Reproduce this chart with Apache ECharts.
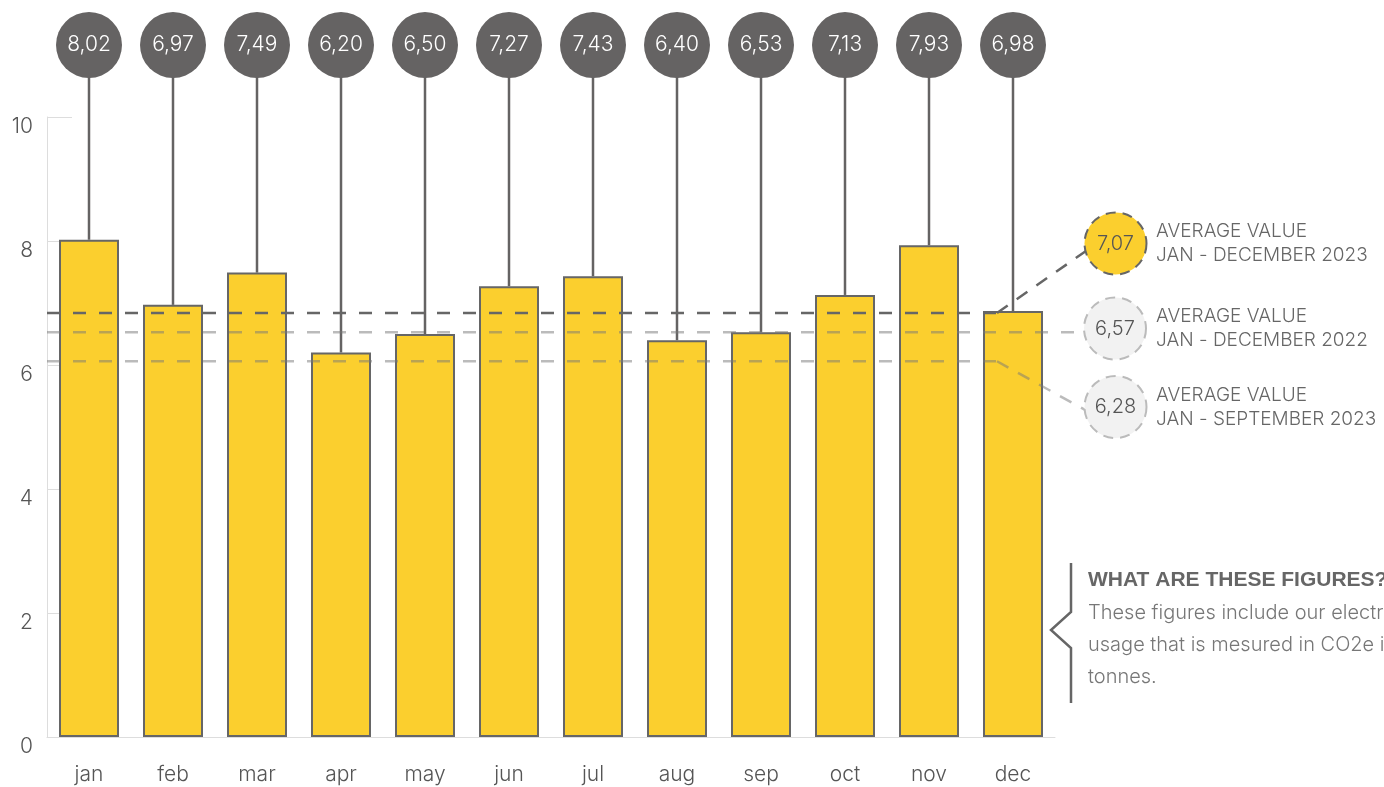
<!DOCTYPE html>
<html><head><meta charset="utf-8">
<script src="https://cdn.jsdelivr.net/npm/echarts@6/dist/echarts.min.js"></script>
<style>html,body{margin:0;padding:0;background:#fff;}#c{width:1384px;height:787px;}</style>
</head><body><div id="c"></div>
<script>
const months = ['jan','feb','mar','apr','may','jun','jul','aug','sep','oct','nov','dec'];
const values = [8.02,6.97,7.49,6.20,6.50,7.27,7.43,6.40,6.53,7.13,7.93,6.87];
const bubbleLabels = ['8,02','6,97','7,49','6,20','6,50','7,27','7,43','6,40','6,53','7,13','7,93','6,98'];
const avgValues = [6.84, 6.53, 6.06];
const avgLabels = ['7,07','6,57','6,28'];
const avgTitles = ['AVERAGE VALUE','AVERAGE VALUE','AVERAGE VALUE'];
const avgPeriods = ['JAN - DECEMBER 2023','JAN - DECEMBER 2022','JAN - SEPTEMBER 2023'];
const noteTitle = 'WHAT ARE THESE FIGURES?';
const noteLines = ['These figures include our electricity','usage that is mesured in CO2e in','tonnes.'];

const FONT = 'Inter, "Noto Sans", sans-serif';
const GREY = '#656363';
const avgLayout = [
  {hEnd: 997, diag: [1086, 251], c: [1115.5, 243.5], fill: '#FBCF2E', stroke: '#666', lineStroke: '#666', text: '#555'},
  {hEnd: 1083, diag: null, c: [1115, 328.5], fill: '#F2F2F2', stroke: '#bbb', lineStroke: 'rgba(120,120,120,0.5)', text: '#555'},
  {hEnd: 997, diag: [1087, 411], c: [1115.5, 407], fill: '#F2F2F2', stroke: '#bbb', lineStroke: 'rgba(120,120,120,0.5)', text: '#555'}
];

const chart = echarts.init(document.getElementById('c'));
chart.setOption({
  animation: false,
  grid: {left: 47, right: 329, top: 117, bottom: 50},
  xAxis: {
    type: 'category', data: months, boundaryGap: true,
    axisLine: {lineStyle: {color: '#ddd', width: 1}},
    axisTick: {inside: true, length: 15, lineStyle: {color: '#ddd'}},
    axisLabel: {color: '#555', fontSize: 21, fontFamily: FONT, fontWeight: 300, margin: 27}
  },
  yAxis: {
    type: 'value', min: 0, max: 10, interval: 2,
    axisLine: {show: true, lineStyle: {color: '#ddd', width: 1}},
    axisTick: {show: true, inside: true, length: 25, lineStyle: {color: '#ddd'}},
    splitLine: {show: false},
    axisLabel: {color: '#555', fontSize: 21, fontFamily: FONT, fontWeight: 300, margin: 14, verticalAlign: 'top', lineHeight: 20}
  },
  series: [
    {
      type: 'custom', z: 1,
      data: values.map((v, i) => [i, v]),
      renderItem: (params, api) => {
        const i = params.dataIndex;
        const p = api.coord([api.value(0), api.value(1)]);
        return {type: 'group', children: [
          {type: 'line', shape: {x1: p[0], y1: 76, x2: p[0], y2: p[1]}, style: {stroke: GREY, lineWidth: 2.5}},
          {type: 'circle', shape: {cx: p[0], cy: 45, r: 33}, style: {fill: GREY}},
          {type: 'text', style: {text: bubbleLabels[i], x: p[0], y: 45, align: 'center', verticalAlign: 'middle', fill: '#fff', font: '300 21px ' + FONT}}
        ]};
      }
    },
    {
      type: 'bar', z: 2, data: values, barWidth: 60,
      itemStyle: {color: '#FBCF2E', borderColor: '#666', borderWidth: 2}
    },
    {
      type: 'custom', z: 5,
      data: avgValues.map((v, i) => [0, v]),
      renderItem: (params, api) => {
        const i = params.dataIndex;
        const L = avgLayout[i];
        const cs = params.coordSys;
        const y = api.coord([0, api.value(1)])[1];
        const dash = [13, 13];
        const ch = [
          {type: 'line', shape: {x1: cs.x, y1: y, x2: L.hEnd, y2: y}, style: {stroke: L.lineStroke, lineWidth: 2.5, lineDash: dash}}
        ];
        if (L.diag) ch.push({type: 'line', shape: {x1: L.hEnd, y1: y, x2: L.diag[0], y2: L.diag[1]}, style: {stroke: L.lineStroke, lineWidth: 2.5, lineDash: [13, 11]}});
        ch.push({type: 'circle', shape: {cx: L.c[0], cy: L.c[1], r: 31}, style: {fill: L.fill, stroke: L.stroke, lineWidth: 2, lineDash: [10, 7]}});
        ch.push({type: 'text', style: {text: avgLabels[i], x: L.c[0], y: L.c[1], align: 'center', verticalAlign: 'middle', fill: L.text, font: '300 20px ' + FONT}});
        ch.push({type: 'text', style: {text: avgTitles[i], x: 1156, y: L.c[1] - 12, align: 'left', verticalAlign: 'middle', fill: '#666', font: '300 19px ' + FONT}});
        ch.push({type: 'text', style: {text: avgPeriods[i], x: 1156, y: L.c[1] + 12, align: 'left', verticalAlign: 'middle', fill: '#666', font: '300 19px ' + FONT}});
        return {type: 'group', children: ch};
      }
    }
  ],
  graphic: [
    {type: 'polyline', shape: {points: [[1071, 563], [1071, 612], [1051, 630], [1071, 648], [1071, 703]]}, style: {stroke: '#666', lineWidth: 2.5, fill: null}},
    {type: 'text', x: 1088, y: 580, style: {text: noteTitle, fill: '#666', font: 'bold 21px "Liberation Sans", Arial, sans-serif', verticalAlign: 'middle'}},
    {type: 'text', x: 1088, y: 613, style: {text: noteLines[0], fill: '#777', font: '300 20px ' + FONT, verticalAlign: 'middle'}},
    {type: 'text', x: 1088, y: 645, style: {text: noteLines[1], fill: '#777', font: '300 20px ' + FONT, verticalAlign: 'middle'}},
    {type: 'text', x: 1088, y: 677, style: {text: noteLines[2], fill: '#777', font: '300 20px ' + FONT, verticalAlign: 'middle'}}
  ]
});
</script></body></html>
